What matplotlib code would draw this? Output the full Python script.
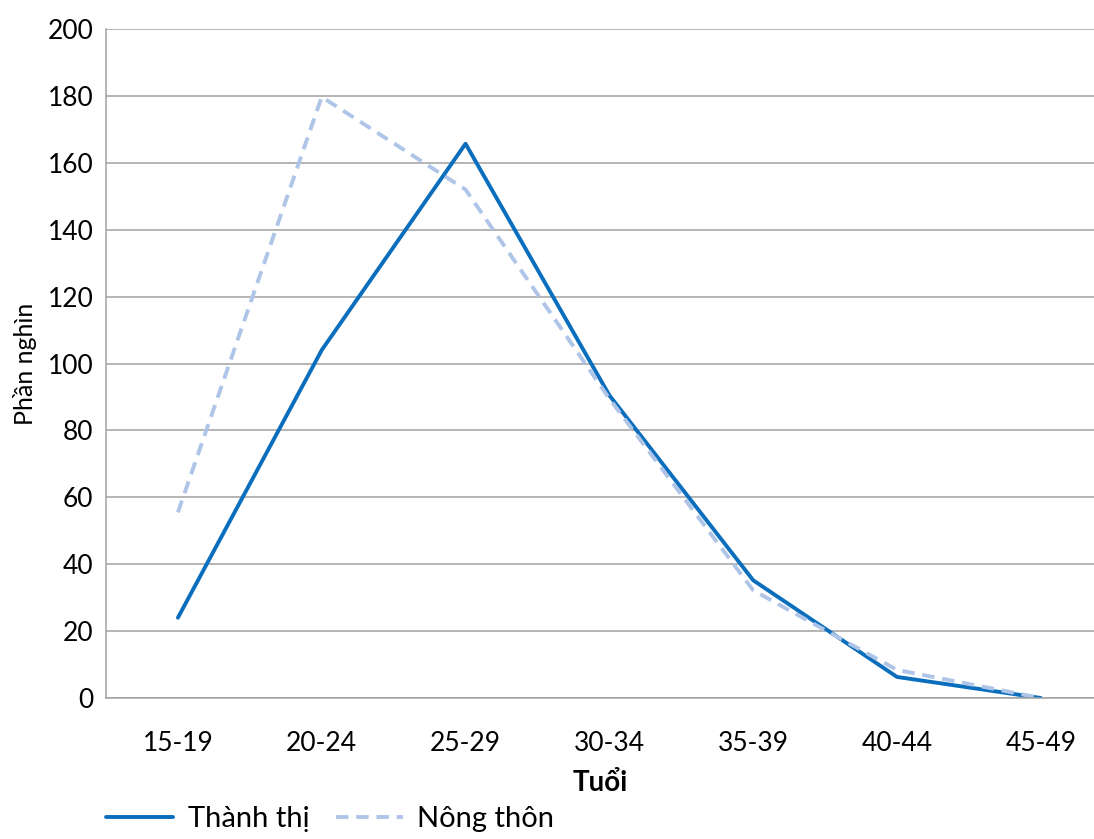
import matplotlib
matplotlib.use("Agg")
import matplotlib.pyplot as plt

plt.rcParams['font.family'] = ['Lato', 'DejaVu Sans']

categories = ["15-19", "20-24", "25-29", "30-34", "35-39", "40-44", "45-49"]
thanh_thi = [24, 104, 165.7, 90.5, 35.2, 6.3, 0]
nong_thon = [55.5, 179.7, 152, 89.5, 32.2, 8.4, 0]
yticks = list(range(0, 201, 20))

fig = plt.figure(figsize=(10.94, 8.39), dpi=100)
ax = fig.add_axes([106/1094, 1 - 698/839, (1094 - 106)/1094, (698 - 29)/839])

x = list(range(len(categories)))
ax.plot(x, thanh_thi, color="#0a6ebd", lw=2.8, label="Thành thị", solid_capstyle='round')
ax.plot(x, nong_thon, color="#aec5e8", lw=2.8, ls=(0, (3.2, 2.0)), label="Nông thôn")

ax.set_xlim(-0.5, 6.37)
ax.set_ylim(0, 200)
ax.set_yticks(yticks)
ax.set_xticks(x)
ax.set_xticklabels(categories)
ax.grid(axis='y', color="#a0a0a0", lw=1.1)
ax.set_axisbelow(True)
for s in ['top', 'right']:
    ax.spines[s].set_visible(False)
for s in ['left', 'bottom']:
    ax.spines[s].set_color("#a0a0a0")
    ax.spines[s].set_linewidth(1.1)
ax.tick_params(length=0, labelsize=19, colors="black", pad=9)
ax.tick_params(axis='x', pad=24)
ax.set_ylabel("Phần nghìn", fontsize=18, labelpad=8)
ax.set_xlabel("Tuổi", fontsize=20, fontweight='bold', labelpad=10)

ax.legend(loc='upper left', bbox_to_anchor=(0.0, -0.162), ncol=2, frameon=False,
          fontsize=21, handlelength=2.3, columnspacing=0.9, handletextpad=0.5,
          borderaxespad=0, borderpad=0)

fig.savefig("out.png", dpi=100)
